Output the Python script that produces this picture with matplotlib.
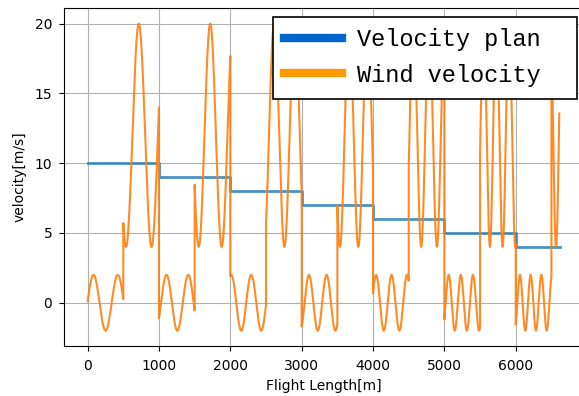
import numpy as np
import matplotlib
matplotlib.use("Agg")
import matplotlib.pyplot as plt
from matplotlib.lines import Line2D
from matplotlib.patches import Rectangle

# ---- data ----
seg_edges = [0, 1000, 2000, 3000, 4000, 5000, 6000, 6620]
plan_velocity = [10, 9, 8, 7, 6, 5, 4]

# wind: each segment = low band (offset 0, amp 2) then high band (offset 12, amp 8)
low_start = [0, 1000, 2000, 3000, 4000, 5000, 6000]
low_end = [500, 1500, 2500, 3500, 4500, 5500, 6500]
low_period = [340, 305, 280, 247, 217, 170, 150]
low_peak = [82, 1105, 2293, 3102, 4043, 5060, 6059]
low_offset, low_amp = 0.0, 2.0

high_start = [500, 1500, 2500, 3500, 4500, 5500, 6500]
high_end = [1000, 2000, 3000, 4000, 5000, 6000, 6610]
high_period = [358, 322, 288, 257, 220, 178, 160]
high_peak = [717, 1718, 2614, 3665, 4785, 5727, 6485]
high_offset, high_amp = 12.0, 8.0

x_ticks = [0, 1000, 2000, 3000, 4000, 5000, 6000]
y_ticks = [0, 5, 10, 15, 20]
legend_labels = ['Velocity plan', 'Wind velocity']

# ---- build wind curve ----
wx, wy = [], []
for i in range(len(low_start)):
    for (s, e, p, pk, off, amp) in [
        (low_start[i], low_end[i], low_period[i], low_peak[i], low_offset, low_amp),
        (high_start[i], high_end[i], high_period[i], high_peak[i], high_offset, high_amp),
    ]:
        xs = np.linspace(s, e, 150)
        wx.append(xs)
        wy.append(off + amp * np.cos(2 * np.pi * (xs - pk) / p))
wx = np.concatenate(wx)
wy = np.concatenate(wy)

W, H = 579, 396
fig = plt.figure(figsize=(W / 100, H / 100), dpi=100)
ax = fig.add_axes([64 / W, (H - 346) / H, (583.6 - 64) / W, (346 - 8.3) / H])

ax.step(seg_edges, plan_velocity + [plan_velocity[-1]], where='post',
        color='#1f77b4', alpha=0.8, lw=2)
ax.plot(wx, wy, color='#ff7f0e', alpha=0.9, lw=1.5)

ax.set_xlim(-331, 6951)
ax.set_ylim(-3.1, 21.1)
ax.set_xticks(x_ticks)
ax.set_yticks(y_ticks)
ax.tick_params(axis='x', pad=6)
ax.tick_params(axis='y', pad=5)
ax.grid(True, color='#b0b0b0', lw=0.8)
ax.set_xlabel('Flight Length[m]', fontsize=10, labelpad=4)
ax.set_ylabel('velocity[m/s]', fontsize=10, labelpad=6)

# legend frame (white box with black border)
frame = Rectangle((272.7 / W, 1 - 99.3 / H), 304.6 / W, 82 / H,
                  transform=fig.transFigure, facecolor='white',
                  edgecolor='black', lw=1.2, zorder=9)
ax.add_artist(frame)
frame.set_clip_on(False)

handles = [Line2D([0], [0], color='#0066cc', lw=6),
           Line2D([0], [0], color='#ff9900', lw=6)]
leg = ax.legend(handles, legend_labels,
                loc='upper left', bbox_to_anchor=(284 / W, 1 - 28 / H),
                bbox_transform=fig.transFigure, borderaxespad=0, borderpad=0,
                frameon=False,
                prop={'family': 'Liberation Mono', 'size': 17},
                handlelength=2.46, handletextpad=0.64, labelspacing=0.54)
leg.set_zorder(10)

fig.savefig('out.png', dpi=100)
